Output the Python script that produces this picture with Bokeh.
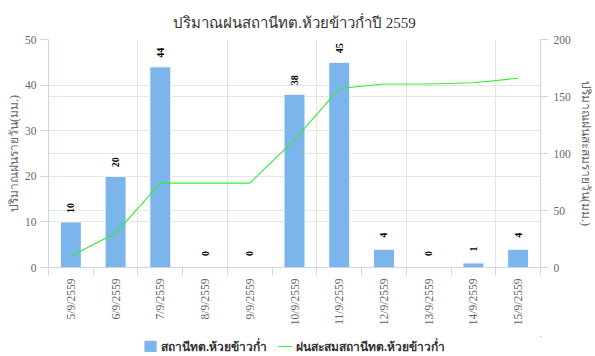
import math
from bokeh.plotting import figure
from bokeh.layouts import column
from bokeh.models import (Range1d, LinearAxis, FixedTicker, Grid, Legend, LegendItem,
                          ColumnDataSource)
from bokeh.core.properties import value
from bokeh.embed import file_html
from bokeh.resources import INLINE

title_text = "ปริมาณฝนสถานีทต.ห้วยข้าวก่ำปี 2559"
dates = ["5/9/2559", "6/9/2559", "7/9/2559", "8/9/2559", "9/9/2559", "10/9/2559",
         "11/9/2559", "12/9/2559", "13/9/2559", "14/9/2559", "15/9/2559"]
daily_rain = [10, 20, 44, 0, 0, 38, 45, 4, 0, 1, 4]
cumulative_rain = [10, 30, 74, 74, 74, 112, 157, 161, 161, 162, 166]
left_ticks = [0, 10, 20, 30, 40, 50]
right_ticks = [0, 50, 100, 150, 200]
left_label = "ปริมาณฝนรายวัน(มม.)"
right_label = "ปริมาณฝนสะสมรายวัน(มม.)"
bar_name = "สถานีทต.ห้วยข้าวก่ำ"
line_name = "ฝนสะสมสถานีทต.ห้วยข้าวก่ำ"

FONT = "Liberation Serif"
AXIS_COLOR = "#ccd6eb"
GRID_COLOR = "#e6e6e6"
LABEL_COLOR = "#666666"
BAR_COLOR = "#7cb5ec"
LINE_COLOR = "#33ee33"

n = len(dates)
xs = [i + 0.5 for i in range(n)]
src = ColumnDataSource(dict(x=xs, rain=daily_rain, cum=cumulative_rain,
                            lbl=[str(v) for v in daily_rain]))

p = figure(width=595, height=336, output_backend="svg", toolbar_location=None,
           x_range=Range1d(0, n), y_range=Range1d(0, 50),
           min_border_left=48, min_border_right=55, min_border_top=39, min_border_bottom=69,
           x_axis_location=None, y_axis_location=None)
p.outline_line_color = None
p.background_fill_color = "white"
p.border_fill_color = "white"

p.title.text = title_text
p.title.align = "center"
p.title.vertical_align = "top"
p.title.text_font = FONT
p.title.text_font_size = "15px"
p.title.text_font_style = "normal"
p.title.text_color = "#333333"
p.title.standoff = 14

p.extra_y_ranges = {"right": Range1d(0, 200)}

# x axis
xticker = FixedTicker(ticks=xs, minor_ticks=list(range(n + 1)))
xaxis = LinearAxis(ticker=xticker)
xaxis.major_label_overrides = {x: d for x, d in zip(xs, dates)}
xaxis.major_label_orientation = math.pi / 2
xaxis.major_tick_line_color = None
xaxis.major_tick_out = 8
xaxis.major_tick_in = 0
xaxis.minor_tick_out = 8
xaxis.minor_tick_in = 0
xaxis.minor_tick_line_color = AXIS_COLOR
xaxis.axis_line_color = AXIS_COLOR
xaxis.major_label_standoff = 3
xaxis.major_label_text_font = FONT
xaxis.major_label_text_font_size = "11.5px"
xaxis.major_label_text_color = LABEL_COLOR
p.add_layout(xaxis, "below")

laxis = LinearAxis(ticker=FixedTicker(ticks=left_ticks), axis_label=left_label)
raxis = LinearAxis(ticker=FixedTicker(ticks=right_ticks), axis_label=right_label,
                   y_range_name="right")
for ax in (laxis, raxis):
    ax.axis_line_color = AXIS_COLOR
    ax.major_tick_line_color = AXIS_COLOR
    ax.major_tick_out = 8
    ax.major_tick_in = 0
    ax.minor_tick_line_color = None
    ax.major_label_text_font = FONT
    ax.major_label_text_font_size = "11.5px"
    ax.major_label_text_color = LABEL_COLOR
    ax.axis_label_text_font = FONT
    ax.axis_label_text_font_size = "12px"
    ax.axis_label_text_font_style = "normal"
    ax.axis_label_text_color = LABEL_COLOR
laxis.major_label_standoff = 4
laxis.axis_label_standoff = 1
raxis.major_label_standoff = 5
raxis.axis_label_standoff = 5
p.add_layout(laxis, "left")
p.add_layout(raxis, "right")

p.add_layout(Grid(dimension=1, ticker=laxis.ticker, grid_line_color=GRID_COLOR))
p.add_layout(Grid(dimension=1, ticker=raxis.ticker, grid_line_color=GRID_COLOR,
                  y_range_name="right"))

p.vbar(x="x", top="rain", width=0.47, source=src, fill_color=BAR_COLOR,
       line_color="white", line_width=1)
p.line(x="x", y="cum", source=src, y_range_name="right",
       line_color=LINE_COLOR, line_width=1.1)
p.text(x="x", y="rain", text="lbl", source=src, angle=math.pi / 2, y_offset=-14,
       text_align="center", text_baseline="middle", text_font=value(FONT),
       text_font_size="10px", text_font_style="bold", text_color="black")

# legend strip: same series drawn into a view whose ranges show none of them,
# so only the legend entries are visible
lg = figure(width=595, height=20, output_backend="svg", toolbar_location=None,
            x_range=Range1d(-100, -99), y_range=Range1d(-100, -99), min_border=0,
            x_axis_location=None, y_axis_location=None)
lg.outline_line_color = None
lg.grid.visible = False
lb = lg.vbar(x="x", top="rain", width=0.47, source=src, fill_color=BAR_COLOR,
             line_color=BAR_COLOR)
ll = lg.line(x="x", y="cum", source=src, line_color=LINE_COLOR, line_width=1.1)
legend = Legend(items=[LegendItem(label=bar_name, renderers=[lb]),
                       LegendItem(label=line_name, renderers=[ll])],
                orientation="horizontal", location="center",
                label_text_font=FONT, label_text_font_size="12px",
                label_text_font_style="bold", label_text_color="#333333",
                glyph_width=14, glyph_height=13, spacing=11, padding=0, margin=0,
                label_standoff=4, label_height=16, border_line_color=None,
                background_fill_alpha=0)
lg.add_layout(legend, "center")

layout = column(p, lg, spacing=0)
open("out.html", "w").write(file_html(layout, INLINE))
